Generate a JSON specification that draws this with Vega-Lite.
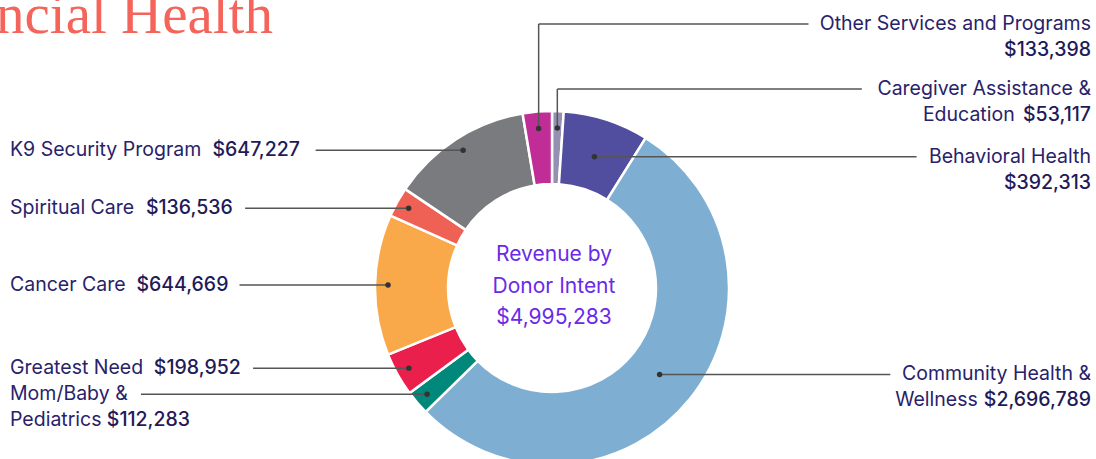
{
  "$schema": "https://vega.github.io/schema/vega-lite/v6.json",
  "width": 1096,
  "height": 459,
  "padding": 0,
  "autosize": {"type": "none"},
  "background": "white",
  "config": {"view": {"stroke": null}},
  "layer": [
    {
      "data": {
        "values": [
          {"order": 1, "cat": "Caregiver Assistance & Education", "line1": "Caregiver Assistance &", "line2": "Education", "value": 53117},
          {"order": 2, "cat": "Behavioral Health", "line1": "Behavioral Health", "line2": "", "value": 392313},
          {"order": 3, "cat": "Community Health & Wellness", "line1": "Community Health &", "line2": "Wellness", "value": 2696789},
          {"order": 4, "cat": "Mom/Baby & Pediatrics", "line1": "Mom/Baby &", "line2": "Pediatrics", "value": 112283},
          {"order": 5, "cat": "Greatest Need", "line1": "Greatest Need", "line2": "", "value": 198952},
          {"order": 6, "cat": "Cancer Care", "line1": "Cancer Care", "line2": "", "value": 644669},
          {"order": 7, "cat": "Spiritual Care", "line1": "Spiritual Care", "line2": "", "value": 136536},
          {"order": 8, "cat": "K9 Security Program", "line1": "K9 Security Program", "line2": "", "value": 647227},
          {"order": 9, "cat": "Other Services and Programs", "line1": "Other Services and Programs", "line2": "", "value": 133398}
        ]
      },
      "transform": [
        {"window": [{"op": "sum", "field": "value", "as": "cum"}], "sort": [{"field": "order"}], "frame": [null, 0]},
        {"joinaggregate": [{"op": "sum", "field": "value", "as": "total"}]},
        {"calculate": "2*PI*(datum.cum - datum.value/2)/datum.total", "as": "ang"},
        {"calculate": "datum.ang < 0.15 || datum.ang > 2*PI - 0.15 ? 'top' : (datum.ang < PI ? 'right' : 'left')", "as": "side"},
        {"calculate": "datum.side == 'left' ? 164 : (datum.side == 'right' ? 138 : 160)", "as": "rd"},
        {"calculate": "datum.rd*sin(datum.ang)", "as": "dx"},
        {"calculate": "datum.rd*cos(datum.ang)", "as": "dy"},
        {"calculate": "datum.side == 'top' ? 199 + (datum.ang > PI ? 65 : 0) : datum.dy", "as": "ly"},
        {"calculate": "datum.ly - 26", "as": "ly2"},
        {"calculate": "format(datum.value, '$,')", "as": "amount"},
        {"calculate": "(0.564*length(datum.line1) - 0.324*(length(datum.line1)-length(replace(datum.line1, regexp('[iljI.,]','g'), ''))) - 0.231*(length(datum.line1)-length(replace(datum.line1, regexp('[rtf /]','g'), ''))) + 0.282*(length(datum.line1)-length(replace(datum.line1, regexp('[mwMW]','g'), ''))) + 0.126*(length(datum.line1)-length(replace(datum.line1, regexp('[A-HJ-LN-VX-Z&$]','g'), ''))))*19.5", "as": "w1"},
        {"calculate": "(0.564*length(datum.line2) - 0.324*(length(datum.line2)-length(replace(datum.line2, regexp('[iljI.,]','g'), ''))) - 0.231*(length(datum.line2)-length(replace(datum.line2, regexp('[rtf /]','g'), ''))) + 0.282*(length(datum.line2)-length(replace(datum.line2, regexp('[mwMW]','g'), ''))) + 0.126*(length(datum.line2)-length(replace(datum.line2, regexp('[A-HJ-LN-VX-Z&$]','g'), ''))))*19.5", "as": "w2"},
        {"calculate": "(0.615*length(datum.amount) - 0.35*(length(datum.amount)-length(replace(datum.amount, regexp(',','g'), ''))) - 0.2*(length(datum.amount)-length(replace(datum.amount, regexp('1','g'), ''))))*19.5", "as": "wa"},
        {"calculate": "datum.side == 'left' ? -542 : 539", "as": "tx"},
        {"calculate": "datum.side == 'left' ? -542 : 539 - datum.wa - 7", "as": "l2x"},
        {"calculate": "datum.side == 'left' ? (datum.line2 == '' ? -542 + datum.w1 + 14 : -542 + datum.w2 + 6) : 539", "as": "ax"},
        {"calculate": "datum.side == 'left' && datum.line2 == '' ? datum.ly : datum.ly2", "as": "ay"},
        {"calculate": "datum.side == 'left' ? -542 + datum.w1 + (datum.line2 == '' ? 14 + datum.wa : 0) + 14 : 539 - datum.w1 - 15", "as": "lx"}
      ],
      "layer": [
        {
          "mark": {"type": "arc", "innerRadius": 104, "outerRadius": 177, "stroke": "white", "strokeWidth": 2.5},
          "encoding": {
            "theta": {"field": "value", "type": "quantitative", "stack": true},
            "order": {"field": "order", "type": "quantitative"},
            "color": {
              "field": "cat", "type": "nominal", "legend": null,
              "scale": {
                "domain": ["Caregiver Assistance & Education", "Behavioral Health", "Community Health & Wellness", "Mom/Baby & Pediatrics", "Greatest Need", "Cancer Care", "Spiritual Care", "K9 Security Program", "Other Services and Programs"],
                "range": ["#968fb0", "#514d9f", "#7eafd3", "#00887a", "#ea1f4c", "#f9a84a", "#f06155", "#7a7b7f", "#c02d96"]
              }
            },
            "x": {"datum": 0, "type": "quantitative", "scale": {"domain": [-552, 544], "nice": false, "zero": false}, "axis": null},
            "y": {"datum": 0, "type": "quantitative", "scale": {"domain": [-171, 288], "nice": false, "zero": false}, "axis": null}
          }
        },
        {
          "transform": [{"filter": "datum.side == 'top'"}],
          "mark": {"type": "rule", "color": "#555555", "strokeWidth": 1.5},
          "encoding": {
            "x": {"field": "dx", "type": "quantitative", "scale": {"domain": [-552, 544], "nice": false, "zero": false}, "axis": null},
            "y": {"field": "dy", "type": "quantitative", "scale": {"domain": [-171, 288], "nice": false, "zero": false}, "axis": null},
            "y2": {"field": "ly"}
          }
        },
        {
          "mark": {"type": "rule", "color": "#555555", "strokeWidth": 1.5},
          "encoding": {
            "x": {"field": "dx", "type": "quantitative", "scale": {"domain": [-552, 544], "nice": false, "zero": false}, "axis": null},
            "x2": {"field": "lx"},
            "y": {"field": "ly", "type": "quantitative", "scale": {"domain": [-171, 288], "nice": false, "zero": false}, "axis": null}
          }
        },
        {
          "mark": {"type": "circle", "size": 30, "color": "#333333", "opacity": 1},
          "encoding": {
            "x": {"field": "dx", "type": "quantitative", "scale": {"domain": [-552, 544], "nice": false, "zero": false}, "axis": null},
            "y": {"field": "dy", "type": "quantitative", "scale": {"domain": [-171, 288], "nice": false, "zero": false}, "axis": null}
          }
        },
        {
          "transform": [{"filter": "datum.side == 'left'"}],
          "mark": {"type": "text", "align": "left", "baseline": "middle", "font": "Inter", "fontSize": 19.5, "color": "#28226a"},
          "encoding": {
            "text": {"field": "line1"},
            "x": {"field": "tx", "type": "quantitative", "scale": {"domain": [-552, 544], "nice": false, "zero": false}, "axis": null},
            "y": {"field": "ly", "type": "quantitative", "scale": {"domain": [-171, 288], "nice": false, "zero": false}, "axis": null}
          }
        },
        {
          "transform": [{"filter": "datum.side == 'left' && datum.line2 != ''"}],
          "mark": {"type": "text", "align": "left", "baseline": "middle", "font": "Inter", "fontSize": 19.5, "color": "#28226a"},
          "encoding": {
            "text": {"field": "line2"},
            "x": {"field": "l2x", "type": "quantitative", "scale": {"domain": [-552, 544], "nice": false, "zero": false}, "axis": null},
            "y": {"field": "ly2", "type": "quantitative", "scale": {"domain": [-171, 288], "nice": false, "zero": false}, "axis": null}
          }
        },
        {
          "transform": [{"filter": "datum.side == 'left'"}],
          "mark": {"type": "text", "align": "left", "baseline": "middle", "font": "Inter", "fontSize": 19.5, "fontWeight": 500, "color": "#1f1a58"},
          "encoding": {
            "text": {"field": "amount"},
            "x": {"field": "ax", "type": "quantitative", "scale": {"domain": [-552, 544], "nice": false, "zero": false}, "axis": null},
            "y": {"field": "ay", "type": "quantitative", "scale": {"domain": [-171, 288], "nice": false, "zero": false}, "axis": null}
          }
        },
        {
          "transform": [{"filter": "datum.side != 'left'"}],
          "mark": {"type": "text", "align": "right", "baseline": "middle", "font": "Inter", "fontSize": 19.5, "color": "#28226a"},
          "encoding": {
            "text": {"field": "line1"},
            "x": {"field": "tx", "type": "quantitative", "scale": {"domain": [-552, 544], "nice": false, "zero": false}, "axis": null},
            "y": {"field": "ly", "type": "quantitative", "scale": {"domain": [-171, 288], "nice": false, "zero": false}, "axis": null}
          }
        },
        {
          "transform": [{"filter": "datum.side != 'left' && datum.line2 != ''"}],
          "mark": {"type": "text", "align": "right", "baseline": "middle", "font": "Inter", "fontSize": 19.5, "color": "#28226a"},
          "encoding": {
            "text": {"field": "line2"},
            "x": {"field": "l2x", "type": "quantitative", "scale": {"domain": [-552, 544], "nice": false, "zero": false}, "axis": null},
            "y": {"field": "ly2", "type": "quantitative", "scale": {"domain": [-171, 288], "nice": false, "zero": false}, "axis": null}
          }
        },
        {
          "transform": [{"filter": "datum.side != 'left'"}],
          "mark": {"type": "text", "align": "right", "baseline": "middle", "font": "Inter", "fontSize": 19.5, "fontWeight": 500, "color": "#1f1a58"},
          "encoding": {
            "text": {"field": "amount"},
            "x": {"field": "ax", "type": "quantitative", "scale": {"domain": [-552, 544], "nice": false, "zero": false}, "axis": null},
            "y": {"field": "ay", "type": "quantitative", "scale": {"domain": [-171, 288], "nice": false, "zero": false}, "axis": null}
          }
        }
      ]
    },
    {
      "data": {"values": [{"total": "$4,995,283"}]},
      "mark": {"type": "text", "text": ["Revenue by", "Donor Intent", "$4,995,283"], "align": "center", "baseline": "middle", "lineHeight": 31.5, "font": "Inter", "fontSize": 21, "color": "#6a2ae8"},
      "encoding": {
        "x": {"datum": 2, "type": "quantitative", "scale": {"domain": [-552, 544], "nice": false, "zero": false}, "axis": null},
        "y": {"datum": 33, "type": "quantitative", "scale": {"domain": [-171, 288], "nice": false, "zero": false}, "axis": null}
      }
    },
    {
      "data": {"values": [{"title": "ncial Health"}]},
      "mark": {"type": "text", "align": "left", "baseline": "alphabetic", "font": "Liberation Serif", "fontSize": 57, "color": "#f4645a"},
      "encoding": {
        "text": {"field": "title"},
        "x": {"datum": -556, "type": "quantitative", "scale": {"domain": [-552, 544], "nice": false, "zero": false}, "axis": null},
        "y": {"datum": 255, "type": "quantitative", "scale": {"domain": [-171, 288], "nice": false, "zero": false}, "axis": null}
      }
    }
  ]
}
